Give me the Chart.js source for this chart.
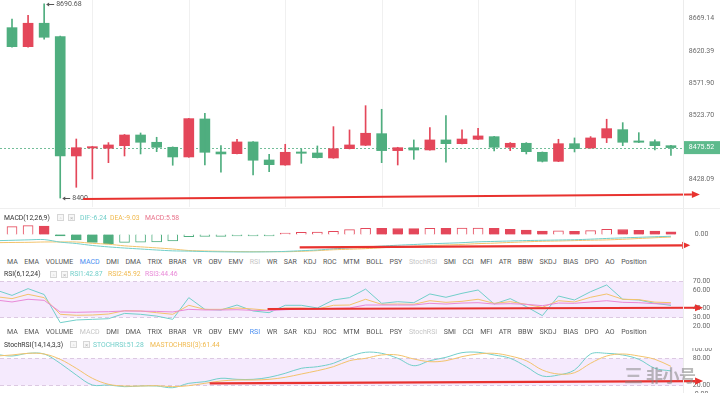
<!DOCTYPE html>
<html><head><meta charset="utf-8">
<script src="https://cdn.jsdelivr.net/npm/chart.js@4.4.1/dist/chart.umd.min.js"></script>
<style>
*{box-sizing:border-box}
html,body{margin:0;padding:0;background:#fff;}
body{width:720px;height:393px;overflow:hidden;position:relative;font-family:Roboto,"Noto Sans",Arial,sans-serif;}
canvas{position:absolute;left:0;}
.t{position:absolute;font-size:6.8px;line-height:8px;height:8px;white-space:nowrap;color:#333;}
.tabs{position:absolute;left:7px;width:640px;display:flex;justify-content:space-between;font-size:7px;line-height:8px;color:#555;white-space:nowrap;}
.tabs .on{color:#4a8ef0}
.tabs .off{color:#c6c6c6}
.ic{position:absolute;width:7px;height:7px;border:1px solid #d6d6d6;background:#f7f7f7;font-size:6px;line-height:5px;text-align:center;color:#b5b5b5;}
.vsep{position:absolute;left:683px;top:0;width:1px;height:393px;background:#ececec;}
.hsep{position:absolute;left:0;width:720px;height:1px;background:#efefef;}
.wm{position:absolute;left:646px;top:364px;font-family:"Noto Sans CJK SC",sans-serif;font-size:17px;font-weight:bold;color:rgba(130,130,130,0.55);line-height:22px;letter-spacing:-0.5px;}
.wmlogo{position:absolute;left:624px;top:364px;font-family:"Noto Sans CJK SC",sans-serif;font-size:19px;font-weight:bold;color:rgba(130,130,130,0.5);line-height:22px;}
</style></head>
<body>
<canvas id="cMain" width="720" height="207" style="top:0"></canvas>
<canvas id="cMacd" width="720" height="34" style="top:222px"></canvas>
<canvas id="cRsi" width="720" height="54" style="top:277px"></canvas>
<canvas id="cStoch" width="720" height="52" style="top:348px"></canvas>
<div class="vsep"></div>
<div class="hsep" style="top:208px"></div>
<div id="overlay"></div>
<div class="wmlogo">三</div>
<div class="wm">非小号</div>
<script>
// ---------------- DATA ----------------
const opens  = [8655.1,8626.6,8661.7,8641.6,8463.0,8475.0,8474.5,8478.4,8494.4,8483.5,8476.0,8461.5,8518.4,8469.0,8466.4,8484.0,8457.0,8449.5,8469.0,8467.5,8460.0,8473.9,8479.0,8496.4,8471.0,8475.4,8472.0,8487.0,8481.4,8488.0,8491.9,8476.0,8482.0,8468.5,8455.0,8481.4,8475.0,8490.0,8502.4,8485.5,8484.4,8478.4];
const highs  = [8668.1,8673.6,8690.68,8642.5,8488.4,8477.5,8483.0,8495.2,8497.4,8491.0,8476.6,8519.2,8526.9,8478.4,8488.0,8484.6,8465.5,8480.5,8473.5,8478.0,8506.9,8502.0,8538.3,8532.9,8476.0,8487.0,8505.4,8523.3,8502.0,8504.5,8492.5,8483.0,8483.0,8469.0,8488.0,8490.0,8492.0,8518.0,8512.9,8497.9,8487.0,8478.8];
const lows   = [8626.0,8626.0,8637.7,8400,8416.1,8428.6,8453.0,8463.0,8466.0,8469.4,8449.1,8461.0,8449.5,8438.6,8466.0,8434.6,8439.5,8449.0,8452.0,8460.0,8459.5,8473.5,8478.5,8453.0,8449.5,8458.0,8471.5,8453.6,8481.0,8487.5,8470.5,8471.0,8466.0,8454.0,8454.5,8469.0,8474.5,8483.0,8478.4,8483.0,8472.0,8464.0];
const closes = [8626.6,8661.7,8640.7,8463.0,8475.4,8476.9,8479.5,8494.4,8483.5,8476.0,8461.5,8518.9,8468.5,8466.0,8484.0,8456.6,8450.0,8468.5,8467.0,8460.5,8473.9,8479.5,8497.0,8471.0,8475.4,8471.9,8487.0,8481.4,8488.4,8493.0,8476.0,8482.0,8469.4,8455.0,8481.4,8474.0,8490.0,8503.9,8483.5,8483.5,8478.4,8475.52];

// indicator lines: first value belongs to the bar just before the visible window
const difLine = [-22,-20.5,-19,-18,-27,-32,-39,-44,-48,-51.5,-55,-58,-59,-60.5,-61.5,-62,-62,-61.5,-60,-57.5,-55,-51,-47.5,-44,-41,-38,-35.5,-33,-31,-29,-26,-24.5,-23,-21.5,-20.5,-19.5,-18.5,-16.5,-14,-12,-10,-8,-6.24];
const deaLine = [-29,-28.3,-27.8,-26.5,-26.5,-26.5,-31.2,-34.5,-40.2,-43.8,-47.5,-51.5,-56.8,-58.5,-59.6,-60.5,-61,-60.75,-61.2,-59.7,-57.3,-54.2,-52.3,-50.2,-47.1,-44,-41.4,-39.2,-37.1,-35.3,-32.4,-30.7,-28.2,-26,-24,-23.1,-21.7,-20.3,-19.2,-17,-14.2,-11.5,-9.03];
const macdHist = [15.6,17.6,17.0,-1,-11,-15.6,-19,-15.6,-15.4,-15,-13,-4.4,-4,-3.8,-3,-2,-1.5,2.4,4.4,4.6,6.4,9.6,12.4,12.2,12.0,11.8,12.4,12.2,12.6,12.8,12.4,10.4,9,7,7.2,6.4,7.6,10.4,10,8.4,7,5.58];
const rsi1 = [60,54,61.5,55,23.7,26.7,27.4,28.1,34,33,31,27.4,51.5,38.5,37.8,43.3,36.7,34.8,43,43,40,48.9,51.5,61,45.2,47,45.9,55.6,51.9,56.3,60,44.4,50.4,41.5,31.5,53.3,48.9,58.1,65.6,49.7,48.9,45.2,42.87];
const rsi2 = [52.6,50.4,55.2,51.5,33,31.9,32.2,33.3,37,36.7,34.8,33,43,38.5,38.5,40,38.9,37.4,40,40,38.9,43,43.3,49.7,44.1,44.4,44.1,48.1,46.3,47.4,49.7,45.2,47,44.1,40.7,48.1,46.7,51.9,55.6,49.7,49.3,46.5,45.92];
const rsi3 = [48.9,46.7,49.7,48.5,35.6,35.2,35.6,35.9,36.7,36.5,36.2,35.6,38.5,37.8,37.8,38.1,37.4,37,38.1,38.9,38.9,39.6,40,43.3,43.3,43.3,43.3,45.2,44.4,45.5,45.9,44.4,44.8,44.1,42.6,45.5,45.2,46.7,48.1,46.3,45.9,44.8,44.46];
const stochK = [88,84.4,90.4,88.9,68.2,42.2,20,20,16.3,17.8,17.8,14,23.8,27.4,34.9,32.6,32.6,37.1,46,57.1,60.7,68.2,83,92.7,90.4,79.3,62.9,74,81.5,91.8,92.7,86.7,79.3,60.7,40,42.2,53.3,88.9,90.4,86.7,77.1,57.1,51.28];
const stochD = [84.4,86.7,90.4,88.9,77.1,57.1,34.9,21.6,17.8,17.8,18.5,16.3,18.5,23.8,28.9,31.1,31.1,32.6,37.1,44.4,51.8,60.7,74,79.3,86.7,86.7,77.8,71.8,74,83,88.9,90.4,84.4,74,53.3,44.4,47.3,68.2,84.4,88.9,84.4,77.1,61.44];

const priceTicks = [8669.14,8620.39,8571.90,8523.70,8428.09];
const macdTicks  = [0];
const rsiTicks   = [70,60,40,30,20];
const stochTicks = [100,80,20,0];
const gridBars   = [5,11,17,23,29,35];
const tabNames = ["MA","EMA","VOLUME","MACD","DMI","DMA","TRIX","BRAR","VR","OBV","EMV","RSI","WR","SAR","KDJ","ROC","MTM","BOLL","PSY","StochRSI","SMI","CCI","MFI","ATR","BBW","SKDJ","BIAS","DPO","AO","Position"];

// user drawings (trend arrows) in data units: [barIndex, value]
const drawMain  = [[4.42,8398.6],[42.8,8405.4]];
const drawMacd  = [[17.9,-46],[42.2,-38.5]];
const drawRsi   = [[15.9,38.9],[43.0,40.3]];
const drawStoch = [[12.3,23.8],[43.0,28.9]];

// ---------------- STYLE / LAYOUT ----------------
const RED = '#e4475a', GREEN = '#4fae7f';
const TEAL = '#72cfca', ORANGE = '#f3c36c', PINK = '#e98ad8';
const X_MIN = -0.747, X_MAX = 41.75;
const AXIS_W = 37, LABEL_X = 701.5;
const N = closes.length;
const idx = Array.from({length:N},(_,i)=>i);
const lineIdx = Array.from({length:N+1},(_,i)=>i-1);
const pts = arr => arr.map((v,i)=>({x:lineIdx[i], y:v}));

function drawArrow(ctx, x1,y1,x2,y2){
  ctx.save();
  ctx.strokeStyle='#e8322f'; ctx.fillStyle='#e8322f'; ctx.lineWidth=2.2;
  const a=Math.atan2(y2-y1,x2-x1), hl=8, hw=3.6;
  const bx=x2-hl*Math.cos(a), by=y2-hl*Math.sin(a);
  ctx.beginPath(); ctx.moveTo(x1,y1); ctx.lineTo(bx,by); ctx.stroke();
  ctx.beginPath(); ctx.moveTo(x2,y2);
  ctx.lineTo(bx+hw*Math.sin(a), by-hw*Math.cos(a));
  ctx.lineTo(bx-hw*Math.sin(a), by+hw*Math.cos(a));
  ctx.closePath(); ctx.fill();
  ctx.restore();
}

function panel(conf){
  return {
    id:'panel',
    beforeDatasetsDraw(chart){
      const {ctx, chartArea:a, scales} = chart;
      const x=scales.x, y=scales[conf.axis||'y'];
      ctx.save();
      if(conf.gridX){
        ctx.strokeStyle='#f0f0f0'; ctx.lineWidth=1;
        conf.gridX.forEach(v=>{const px=Math.round(x.getPixelForValue(v))+0.5;
          ctx.beginPath(); ctx.moveTo(px,a.top); ctx.lineTo(px,a.bottom); ctx.stroke();});
      }
      if(conf.band){
        const y1=Math.round(y.getPixelForValue(conf.band[0]))+0.5, y2=Math.round(y.getPixelForValue(conf.band[1]))+0.5;
        ctx.fillStyle='#f5eafd'; ctx.fillRect(a.left,y1,a.right-a.left,y2-y1);
        ctx.strokeStyle='#dcc9e2'; ctx.lineWidth=1; ctx.setLineDash([4,3]);
        [y1,y2].forEach(p=>{ctx.beginPath();ctx.moveTo(a.left,p);ctx.lineTo(a.right,p);ctx.stroke();});
        ctx.setLineDash([]);
      }
      if(conf.price!==undefined){
        const py=Math.round(y.getPixelForValue(conf.price))+0.5;
        ctx.strokeStyle='rgba(79,174,127,0.8)'; ctx.lineWidth=1; ctx.setLineDash([2,2]);
        ctx.beginPath(); ctx.moveTo(a.left,py); ctx.lineTo(a.right,py); ctx.stroke();
        ctx.setLineDash([]);
      }
      ctx.restore();
    },
    afterDraw(chart){
      const {ctx, scales} = chart;
      const x=scales.x, y=scales[conf.axis||'y'];
      const ty=scales[conf.tickAxis||conf.axis||'y'];
      ctx.save();
      ctx.font='7px Roboto'; ctx.textAlign='center'; ctx.textBaseline='middle'; ctx.fillStyle='#6a6a6a';
      conf.ticks.forEach(v=>ctx.fillText(v.toFixed(2), LABEL_X, ty.getPixelForValue(v)));
      if(conf.price!==undefined){
        const py=y.getPixelForValue(conf.price);
        ctx.fillStyle='#5dba8c'; ctx.fillRect(683,py-6.5,AXIS_W,13);
        ctx.fillStyle='#ffffff'; ctx.fillText(conf.price.toFixed(2), LABEL_X, py);
      }
      if(conf.extremes){
        ctx.fillStyle='#555'; ctx.strokeStyle='#555'; ctx.lineWidth=1; ctx.textAlign='left';
        conf.extremes.forEach(([i,v])=>{
          const px=x.getPixelForValue(i)+2, py=Math.round(y.getPixelForValue(v))+0.5;
          ctx.beginPath(); ctx.moveTo(px+1,py); ctx.lineTo(px+8,py); ctx.stroke();
          ctx.beginPath(); ctx.moveTo(px,py); ctx.lineTo(px+3,py-2); ctx.lineTo(px+3,py+2); ctx.closePath(); ctx.fill();
          ctx.fillText(String(v), px+10, py);
        });
      }
      ctx.restore();
      if(conf.arrow){
        const [p1,p2]=conf.arrow;
        drawArrow(ctx, x.getPixelForValue(p1[0]), y.getPixelForValue(p1[1]), x.getPixelForValue(p2[0]), y.getPixelForValue(p2[1]));
      }
    }
  };
}

const baseOpts = (yMin,yMax,padBottom)=>({
  responsive:false, animation:false, events:[],
  layout:{padding:{left:0,right:AXIS_W,top:0,bottom:padBottom||0}},
  plugins:{legend:{display:false}, tooltip:{enabled:false}},
  scales:{
    x:{type:'linear', min:X_MIN, max:X_MAX, offset:false, bounds:'data', display:false},
    y:{type:'linear', min:yMin, max:yMax, bounds:'data', display:false}
  }
});

// ---------------- MAIN CANDLES ----------------
const candleColor = i => closes[i] >= opens[i] ? RED : GREEN;
let iHigh=0, iLow=0;
idx.forEach(i=>{ if(highs[i]>highs[iHigh]) iHigh=i; if(lows[i]<lows[iLow]) iLow=i; });
new Chart(document.getElementById('cMain'), {
  type:'bar',
  data:{datasets:[
    {data: idx.map(i=>({x:i, y:[lows[i], highs[i]]})), backgroundColor: idx.map(candleColor), barThickness:1, grouped:false, minBarLength:1},
    {data: idx.map(i=>({x:i, y:[opens[i], closes[i]]})), backgroundColor: idx.map(candleColor), barThickness:10, grouped:false, minBarLength:1.2}
  ]},
  options: baseOpts(8386.6, 8696.5),
  plugins:[panel({ticks:priceTicks, gridX:gridBars, price:closes[N-1], extremes:[[iHigh,highs[iHigh]],[iLow,lows[iLow]]], arrow:drawMain})]
});

// ---------------- MACD ----------------
const histColor = i => macdHist[i] >= 0 ? RED : GREEN;
const histFill = i => (i>0 && macdHist[i] < macdHist[i-1]) ? histColor(i) : '#ffffff';
const macdOpts = baseOpts(-76.3, 44.4);
macdOpts.scales.yh = {type:'linear', min:-43, max:25, bounds:'data', display:false};
new Chart(document.getElementById('cMacd'), {
  type:'bar',
  data:{datasets:[
    {type:'line', data:pts(difLine), borderColor:TEAL, borderWidth:1, pointRadius:0, tension:0.3, yAxisID:'y'},
    {type:'line', data:pts(deaLine), borderColor:ORANGE, borderWidth:1, pointRadius:0, tension:0.3, yAxisID:'y'},
    {data: idx.map(i=>({x:i, y:macdHist[i]})), yAxisID:'yh', backgroundColor: idx.map(histFill), borderColor: idx.map(histColor), borderWidth:1, barThickness:10, minBarLength:1.5, grouped:false}
  ]},
  options: macdOpts,
  plugins:[panel({ticks:macdTicks, tickAxis:'yh', arrow:drawMacd})]
});

// ---------------- RSI ----------------
const lineDs = (arr,color,t)=>({data:pts(arr), borderColor:color, borderWidth:1, pointRadius:0, tension:t||0});
new Chart(document.getElementById('cRsi'), {
  type:'line',
  data:{datasets:[lineDs(rsi3,PINK), lineDs(rsi2,ORANGE), lineDs(rsi1,TEAL)]},
  options: baseOpts(18.89, 74.44, 4),
  plugins:[panel({ticks:rsiTicks, band:[70,30], arrow:drawRsi})]
});

// ---------------- StochRSI ----------------
new Chart(document.getElementById('cStoch'), {
  type:'line',
  data:{datasets:[lineDs(stochD,ORANGE,0.35), lineDs(stochK,TEAL,0.35)]},
  options: baseOpts(-13.3, 102.2),
  plugins:[panel({ticks:stochTicks, band:[80,20], arrow:drawStoch})]
});

// ---------------- TEXT OVERLAY ----------------
const ov = document.getElementById('overlay');
function txt(left, cy, s, color){ const d=document.createElement('div'); d.className='t'; d.style.left=left+'px'; d.style.top=(cy-4)+'px'; d.textContent=s; if(color) d.style.color=color; ov.appendChild(d); }
function icons(l1,l2,cy){ [[l1,'◦'],[l2,'×']].forEach(([l,s])=>{const d=document.createElement('div'); d.className='ic'; d.style.left=l+'px'; d.style.top=(cy-3.5)+'px'; d.textContent=s; ov.appendChild(d);}); }
function tabs(cy, active, disabled){ const d=document.createElement('div'); d.className='tabs'; d.style.top=(cy-4)+'px';
  tabNames.forEach(n=>{const s=document.createElement('span'); s.textContent=n; if(n===active) s.className='on'; else if(disabled.includes(n)) s.className='off'; d.appendChild(s);}); ov.appendChild(d); }
const f2 = v=>v.toFixed(2);
txt(4,217.5,'MACD(12,26,9)'); icons(57,68,217.5);
txt(80,217.5,'DIF:'+f2(difLine[N]),TEAL); txt(110,217.5,'DEA:'+f2(deaLine[N]),'#f0b94e'); txt(145,217.5,'MACD:'+f2(macdHist[N-1]),'#e8728a');
tabs(261.7,'MACD',['RSI','StochRSI']);
txt(4,274,'RSI(6,12,24)'); icons(50,61,274);
txt(70,274,'RSI1:'+f2(rsi1[N]),TEAL); txt(108,274,'RSI2:'+f2(rsi2[N]),'#f0b94e'); txt(145,274,'RSI3:'+f2(rsi3[N]),PINK);
tabs(331.7,'RSI',['MACD','StochRSI']);
txt(4,344.5,'StochRSI(14,14,3,3)'); icons(70,83,344.5);
txt(93,344.5,'STOCHRSI:'+f2(stochK[N]),TEAL); txt(150,344.5,'MASTOCHRSI(3):'+f2(stochD[N]),'#f0b94e');
</script>
</body></html>
